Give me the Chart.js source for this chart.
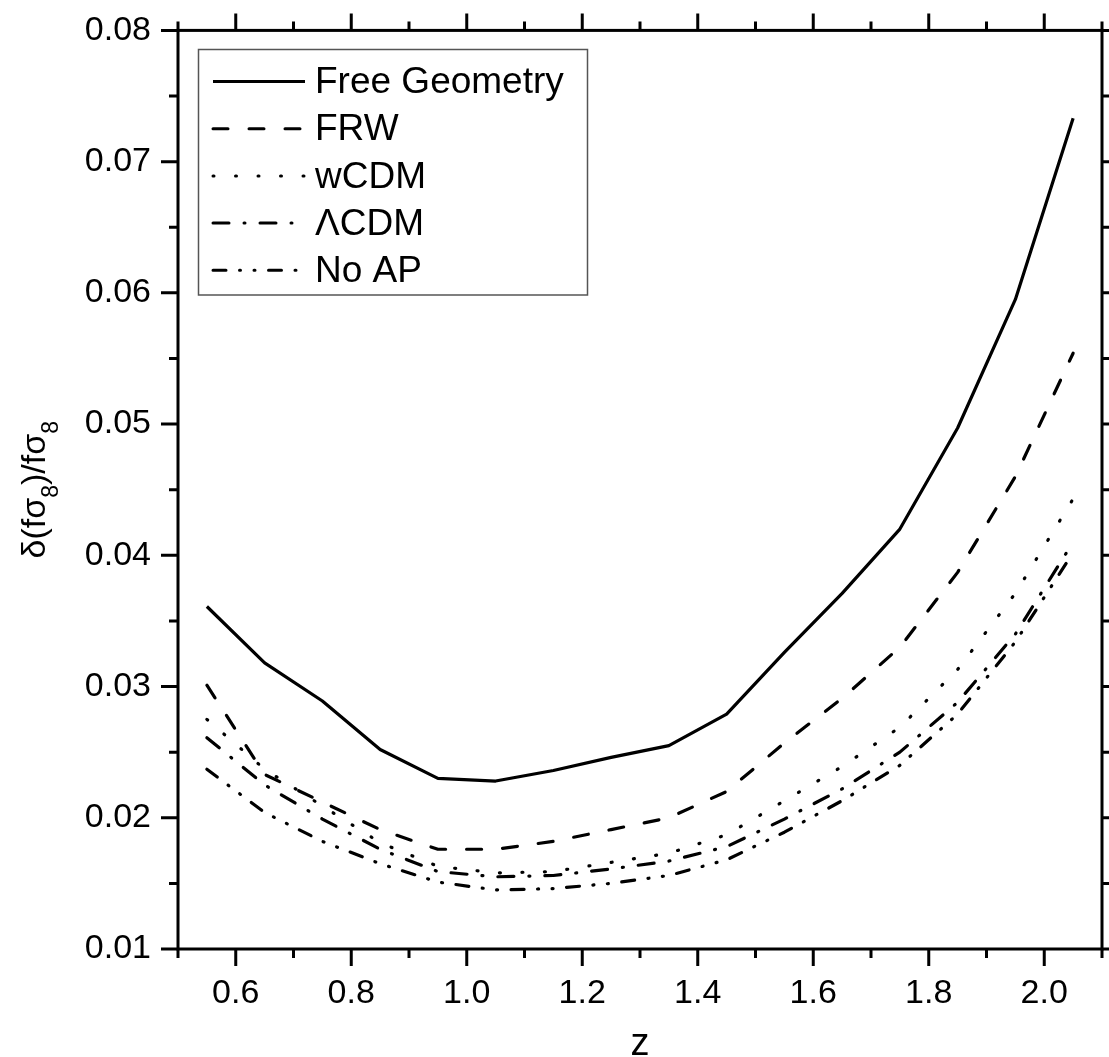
<!DOCTYPE html>
<html>
<head>
<meta charset="utf-8">
<script src="https://cdn.jsdelivr.net/npm/chart.js@4.4.0/dist/chart.umd.min.js"></script>
<style>
  html, body { margin: 0; padding: 0; background: #fff; }
  #wrap { width: 1109px; height: 1057px; }
</style>
</head>
<body>
<div id="wrap"><canvas id="fsigmaChart"></canvas></div>
<script>
const Z_VALUES = [0.55, 0.65, 0.75, 0.85, 0.95, 1.05, 1.15, 1.25, 1.35, 1.45, 1.55, 1.65, 1.75, 1.85, 1.95, 2.05];

const FREE_GEOMETRY = [0.0361, 0.0318, 0.0289, 0.0252, 0.0230, 0.0228, 0.0236, 0.0246, 0.0255, 0.0279, 0.0326, 0.0371, 0.0420, 0.0497, 0.0595, 0.0733];
const FRW           = [0.0301, 0.0233, 0.0212, 0.0191, 0.0176, 0.0176, 0.0182, 0.0191, 0.0200, 0.0220, 0.0257, 0.0291, 0.0330, 0.0387, 0.0460, 0.0554];
const WCDM          = [0.0275, 0.0237, 0.0209, 0.0181, 0.0163, 0.0158, 0.0159, 0.0166, 0.0173, 0.0187, 0.0213, 0.0239, 0.0269, 0.0313, 0.0371, 0.0443];
const LCDM          = [0.0261, 0.0225, 0.0199, 0.0176, 0.0159, 0.0155, 0.0156, 0.0161, 0.0167, 0.0178, 0.0199, 0.0222, 0.0250, 0.0288, 0.0340, 0.0410];
const NO_AP         = [0.0237, 0.0204, 0.0182, 0.0165, 0.0151, 0.0145, 0.0146, 0.0150, 0.0156, 0.0168, 0.0189, 0.0213, 0.0240, 0.0279, 0.0334, 0.0402];

const X_TICKS = [0.6, 0.8, 1.0, 1.2, 1.4, 1.6, 1.8, 2.0];
const X_MINOR = [0.5, 0.7, 0.9, 1.1, 1.3, 1.5, 1.7, 1.9, 2.1];
const Y_TICKS = [0.01, 0.02, 0.03, 0.04, 0.05, 0.06, 0.07, 0.08];
const Y_MINOR = [0.015, 0.025, 0.035, 0.045, 0.055, 0.065, 0.075];

const X_TITLE = "z";
const FONT = "'Liberation Sans', Arial, sans-serif";

function series(values) {
    return values.map((v, i) => ({ x: Z_VALUES[i], y: v }));
}

// frame + ticks on all four sides, pointing outward
const framePlugin = {
    id: "frame",
    afterDraw(chart) {
        const { ctx, chartArea: a, scales } = chart;
        const major = 17, minor = 9;
        ctx.save();
        ctx.strokeStyle = "#000";
        ctx.lineWidth = 3;
        ctx.lineCap = "butt";
        ctx.strokeRect(a.left, a.top, a.right - a.left, a.bottom - a.top);
        ctx.beginPath();
        const xTick = (v, len) => {
            const px = scales.x.getPixelForValue(v);
            ctx.moveTo(px, a.bottom); ctx.lineTo(px, a.bottom + len);
            ctx.moveTo(px, a.top); ctx.lineTo(px, a.top - len);
        };
        const yTick = (v, len) => {
            const py = scales.y.getPixelForValue(v);
            ctx.moveTo(a.left, py); ctx.lineTo(a.left - len, py);
            ctx.moveTo(a.right, py); ctx.lineTo(a.right + len, py);
        };
        X_TICKS.forEach(v => xTick(v, major));
        X_MINOR.forEach(v => xTick(v, minor));
        Y_TICKS.forEach(v => yTick(v, major));
        Y_MINOR.forEach(v => yTick(v, minor));
        ctx.stroke();

        // axis titles
        ctx.fillStyle = "#000";
        ctx.font = "38px " + FONT;
        ctx.textAlign = "center";
        ctx.textBaseline = "alphabetic";
        ctx.fillText(X_TITLE, (a.left + a.right) / 2, 1055);

        // δ(fσ8)/fσ8 with subscripts, rotated
        const parts = [["δ(fσ", false], ["8", true], [")/fσ", false], ["8", true]];
        const mainF = "34px " + FONT, subF = "23px " + FONT;
        let total = 0;
        parts.forEach(([t, sub]) => { ctx.font = sub ? subF : mainF; total += ctx.measureText(t).width; });
        ctx.translate(45, (a.top + a.bottom) / 2);
        ctx.rotate(-Math.PI / 2);
        ctx.textAlign = "left";
        let pos = -total / 2;
        parts.forEach(([t, sub]) => {
            ctx.font = sub ? subF : mainF;
            ctx.fillText(t, pos, sub ? 13 : 0);
            pos += ctx.measureText(t).width;
        });
        ctx.restore();
    }
};

const legendPlugin = {
    id: "boxLegend",
    afterDatasetsDraw(chart) {
        const ctx = chart.ctx;
        ctx.save();
        ctx.strokeStyle = "#555";
        ctx.lineWidth = 1.5;
        ctx.strokeRect(198.5, 49.5, 389, 245.5);
        ctx.font = "37px " + FONT;
        ctx.fillStyle = "#000";
        ctx.textBaseline = "middle";
        chart.data.datasets.forEach((ds, i) => {
            const y = 81.5 + i * 47.2;
            ctx.strokeStyle = "#000";
            ctx.lineWidth = 3;
            ctx.lineCap = ds.borderCapStyle || "butt";
            ctx.setLineDash(ds.borderDash || []);
            ctx.beginPath();
            ctx.moveTo(213, y);
            ctx.lineTo(305, y);
            ctx.stroke();
            ctx.setLineDash([]);
            ctx.fillText(ds.label, 315, y + 1.5);
        });
        ctx.restore();
    }
};

const lineStyle = { borderColor: "#000", borderWidth: 3.2, pointRadius: 0, tension: 0, borderJoinStyle: "round", fill: false };

new Chart(document.getElementById("fsigmaChart"), {
    type: "line",
    data: {
        datasets: [
            { ...lineStyle, label: "Free Geometry", data: series(FREE_GEOMETRY), borderCapStyle: "butt" },
            { ...lineStyle, label: "FRW", data: series(FRW), borderDash: [15, 21], borderCapStyle: "round" },
            { ...lineStyle, label: "wCDM", data: series(WCDM), borderDash: [1, 21.5], borderCapStyle: "round" },
            { ...lineStyle, label: "\u039BCDM", data: series(LCDM), borderDash: [16, 15, 1, 15], borderCapStyle: "round" },
            { ...lineStyle, label: "No AP", data: series(NO_AP), borderDash: [13, 13.5, 1, 13.5, 1, 13.5], borderCapStyle: "round" }
        ]
    },
    options: {
        responsive: true,
        maintainAspectRatio: false,
        animation: false,
        layout: { padding: { top: 23, right: 7, left: 0, bottom: 0 } },
        plugins: {
            legend: { display: false },
            tooltip: { enabled: false }
        },
        scales: {
            x: {
                type: "linear",
                min: 0.5,
                max: 2.1,
                afterBuildTicks: (scale) => { scale.ticks = X_TICKS.map(v => ({ value: v })); },
                afterFit: (scale) => { scale.height = 108; },
                grid: { display: false, drawTicks: true, tickLength: 17 },
                border: { display: false },
                ticks: {
                    color: "#000",
                    font: { family: FONT, size: 34 },
                    padding: 7,
                    maxRotation: 0,
                    autoSkip: false,
                    callback: (v) => Number(v).toFixed(1)
                }
            },
            y: {
                type: "linear",
                min: 0.01,
                max: 0.08,
                afterBuildTicks: (scale) => { scale.ticks = Y_TICKS.map(v => ({ value: v })); },
                afterFit: (scale) => { scale.width = 178; },
                grid: { display: false, drawTicks: true, tickLength: 17 },
                border: { display: false },
                ticks: {
                    color: "#000",
                    font: { family: FONT, size: 34 },
                    padding: 10,
                    autoSkip: false,
                    callback: (v) => Number(v).toFixed(2)
                }
            }
        }
    },
    plugins: [framePlugin, legendPlugin]
});
</script>
</body>
</html>
